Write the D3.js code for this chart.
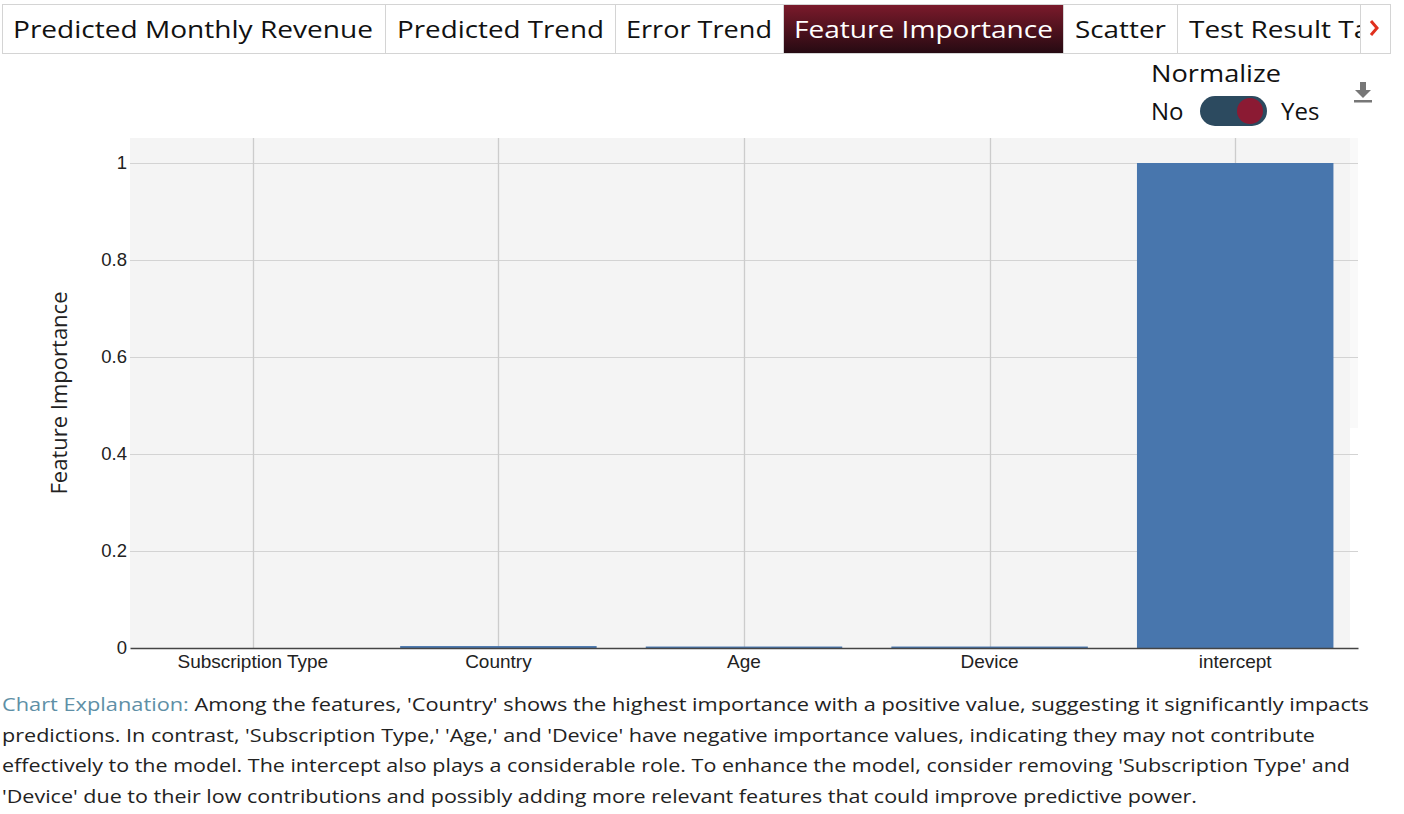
<!DOCTYPE html>
<html>
<head>
<meta charset="utf-8">
<script src="https://cdn.jsdelivr.net/npm/d3@7/dist/d3.min.js"></script>
<style>
  html, body { margin: 0; padding: 0; background: #fff; }
  svg { display: block; }
</style>
</head>
<body>
<svg id="chart" width="1404" height="814"></svg>
<script>
// ---- data ----
const categories = ["Subscription Type", "Country", "Age", "Device", "intercept"];
const importance = [0, 0.004, 0.003, 0.003, 1];
const yTicks = [0, 0.2, 0.4, 0.6, 0.8, 1];
const tabLabels = ["Predicted Monthly Revenue", "Predicted Trend", "Error Trend", "Feature Importance", "Scatter", "Test Result Table"];
const activeTab = "Feature Importance";
const explanationLead = "Chart Explanation:";
const explanationLines = [
  " Among the features, 'Country' shows the highest importance with a positive value, suggesting it significantly impacts",
  "predictions. In contrast, 'Subscription Type,' 'Age,' and 'Device' have negative importance values, indicating they may not contribute",
  "effectively to the model. The intercept also plays a considerable role. To enhance the model, consider removing 'Subscription Type' and",
  "'Device' due to their low contributions and possibly adding more relevant features that could improve predictive power."
];

const svg = d3.select("#chart");
const uiFont = "Open Sans, Lato, sans-serif";
const chartFont = "Liberation Sans, Arial, sans-serif";

// ---- tabs ----
const defs = svg.append("defs");
const grad = defs.append("linearGradient").attr("id", "activeGrad").attr("x1", 0).attr("y1", 0).attr("x2", 0).attr("y2", 1);
grad.append("stop").attr("offset", "0%").attr("stop-color", "#7b1a2b");
grad.append("stop").attr("offset", "100%").attr("stop-color", "#250a12");
const clip = defs.append("clipPath").attr("id", "tabClip");
clip.append("rect").attr("x", 0).attr("y", 0).attr("width", 1360).attr("height", 60);

const tabEdges = [2, 385, 615, 783, 1063, 1177, 1360];
const tabTextX = [13, 397, 626, 794, 1075, 1189];
const tabTextW = [360, 207, 146, 259, 91, 220];
const tabs = svg.append("g").attr("clip-path", "url(#tabClip)");
tabLabels.forEach((t, i) => {
  const x0 = tabEdges[i], x1 = i + 1 < tabEdges.length ? tabEdges[i + 1] : 1460;
  const active = t === activeTab;
  tabs.append("rect").attr("x", x0 + 0.5).attr("y", 4.5).attr("width", x1 - x0).attr("height", 49)
    .attr("fill", active ? "url(#activeGrad)" : "#fff").attr("stroke", "#d4d4d4");
  tabs.append("text").attr("x", tabTextX[i]).attr("y", 38).text(t)
    .attr("font-family", uiFont).attr("font-size", 24).attr("fill", active ? "#fff" : "#111")
    .attr("textLength", tabTextW[i]).attr("lengthAdjust", "spacingAndGlyphs");
});
// scroll arrow button
svg.append("rect").attr("x", 1360.5).attr("y", 4.5).attr("width", 30).attr("height", 49).attr("fill", "#fff").attr("stroke", "#d4d4d4");
svg.append("path").attr("d", "M1371,21 L1377,28 L1371,35").attr("fill", "none").attr("stroke", "#e0301e").attr("stroke-width", 3);

// ---- normalize toggle ----
svg.append("text").attr("x", 1151).attr("y", 82).text("Normalize").attr("font-family", uiFont).attr("font-size", 24).attr("fill", "#111")
  .attr("textLength", 130).attr("lengthAdjust", "spacingAndGlyphs");
svg.append("text").attr("x", 1151).attr("y", 120).text("No").attr("font-family", uiFont).attr("font-size", 24).attr("fill", "#111");
svg.append("text").attr("x", 1281).attr("y", 120).text("Yes").attr("font-family", uiFont).attr("font-size", 24).attr("fill", "#111");
svg.append("rect").attr("x", 1200).attr("y", 96).attr("width", 67).attr("height", 30).attr("rx", 15).attr("fill", "#2c4a5f");
svg.append("circle").attr("cx", 1250).attr("cy", 111).attr("r", 13).attr("fill", "#8b1a33");
// download icon
svg.append("path").attr("d", "M1360,82 h6 v8 h5 l-8,8 l-8,-8 h5 z").attr("fill", "#777");
svg.append("rect").attr("x", 1354).attr("y", 100).attr("width", 18).attr("height", 2.5).attr("fill", "#777");

// ---- chart ----
const plotLeft = 130, plotRight = 1358, plotTop = 138, plotBottom = 648;
const x = d3.scaleBand().domain(categories).range([plotLeft, plotRight]).paddingInner(0.2).paddingOuter(0.1);
const y = d3.scaleLinear().domain([0, (plotBottom - plotTop) / 485]).range([plotBottom, plotTop]);

svg.append("rect").attr("x", plotLeft).attr("y", plotTop).attr("width", 1350 - plotLeft).attr("height", plotBottom - plotTop).attr("fill", "#f4f4f4");
svg.append("rect").attr("x", 1350).attr("y", plotTop).attr("width", plotRight - 1350).attr("height", 290).attr("fill", "#f9f9f9");

// grid
const g = svg.append("g");
g.selectAll(".hgrid").data(yTicks.filter(d => d > 0)).join("line")
  .attr("x1", plotLeft).attr("x2", plotRight).attr("y1", d => y(d) + 0.5).attr("y2", d => y(d) + 0.5)
  .attr("stroke", "#d3d3d3").attr("stroke-width", 1);
g.selectAll(".vgrid").data(categories).join("line")
  .attr("x1", d => Math.round(x(d) + x.bandwidth() / 2) + 0.5).attr("x2", d => Math.round(x(d) + x.bandwidth() / 2) + 0.5)
  .attr("y1", plotTop).attr("y2", plotBottom).attr("stroke", "#cccccc").attr("stroke-width", 1.3);

// bars
g.selectAll(".bar").data(categories).join("rect")
  .attr("x", d => x(d)).attr("width", x.bandwidth())
  .attr("y", (d, i) => y(importance[i])).attr("height", (d, i) => y(0) - y(importance[i]))
  .attr("fill", "#4876ad");

// axes
const yAxis = svg.append("g").attr("transform", `translate(${plotLeft},0)`)
  .call(d3.axisLeft(y).tickValues(yTicks).tickFormat(d3.format("~g")).tickSize(0).tickPadding(3));
yAxis.select(".domain").remove();
yAxis.selectAll("text").attr("font-family", chartFont).attr("font-size", 18.5).attr("fill", "#222");

const xAxis = svg.append("g").attr("transform", `translate(0,${plotBottom})`)
  .call(d3.axisBottom(x).tickSize(0).tickPadding(7));
xAxis.select(".domain").attr("stroke", "#444").attr("stroke-width", 1.3);
xAxis.selectAll("text").attr("font-family", chartFont).attr("font-size", 19).attr("fill", "#222");

svg.append("text").attr("transform", `translate(67,393) rotate(-90)`).attr("text-anchor", "middle")
  .text("Feature Importance").attr("font-family", uiFont).attr("font-size", 22).attr("fill", "#222");

// ---- explanation ----
const lineWidths = [1367, 1313, 1348, 1195];
explanationLines.forEach((line, i) => {
  const t = svg.append("text").attr("x", 2).attr("y", 711 + i * 30.5)
    .attr("font-family", uiFont).attr("font-size", 19).attr("fill", "#222")
    .attr("textLength", lineWidths[i]).attr("lengthAdjust", "spacingAndGlyphs");
  if (i === 0) t.append("tspan").attr("fill", "#5e8fa6").text(explanationLead);
  t.append("tspan").text(line);
});
</script>
</body>
</html>
